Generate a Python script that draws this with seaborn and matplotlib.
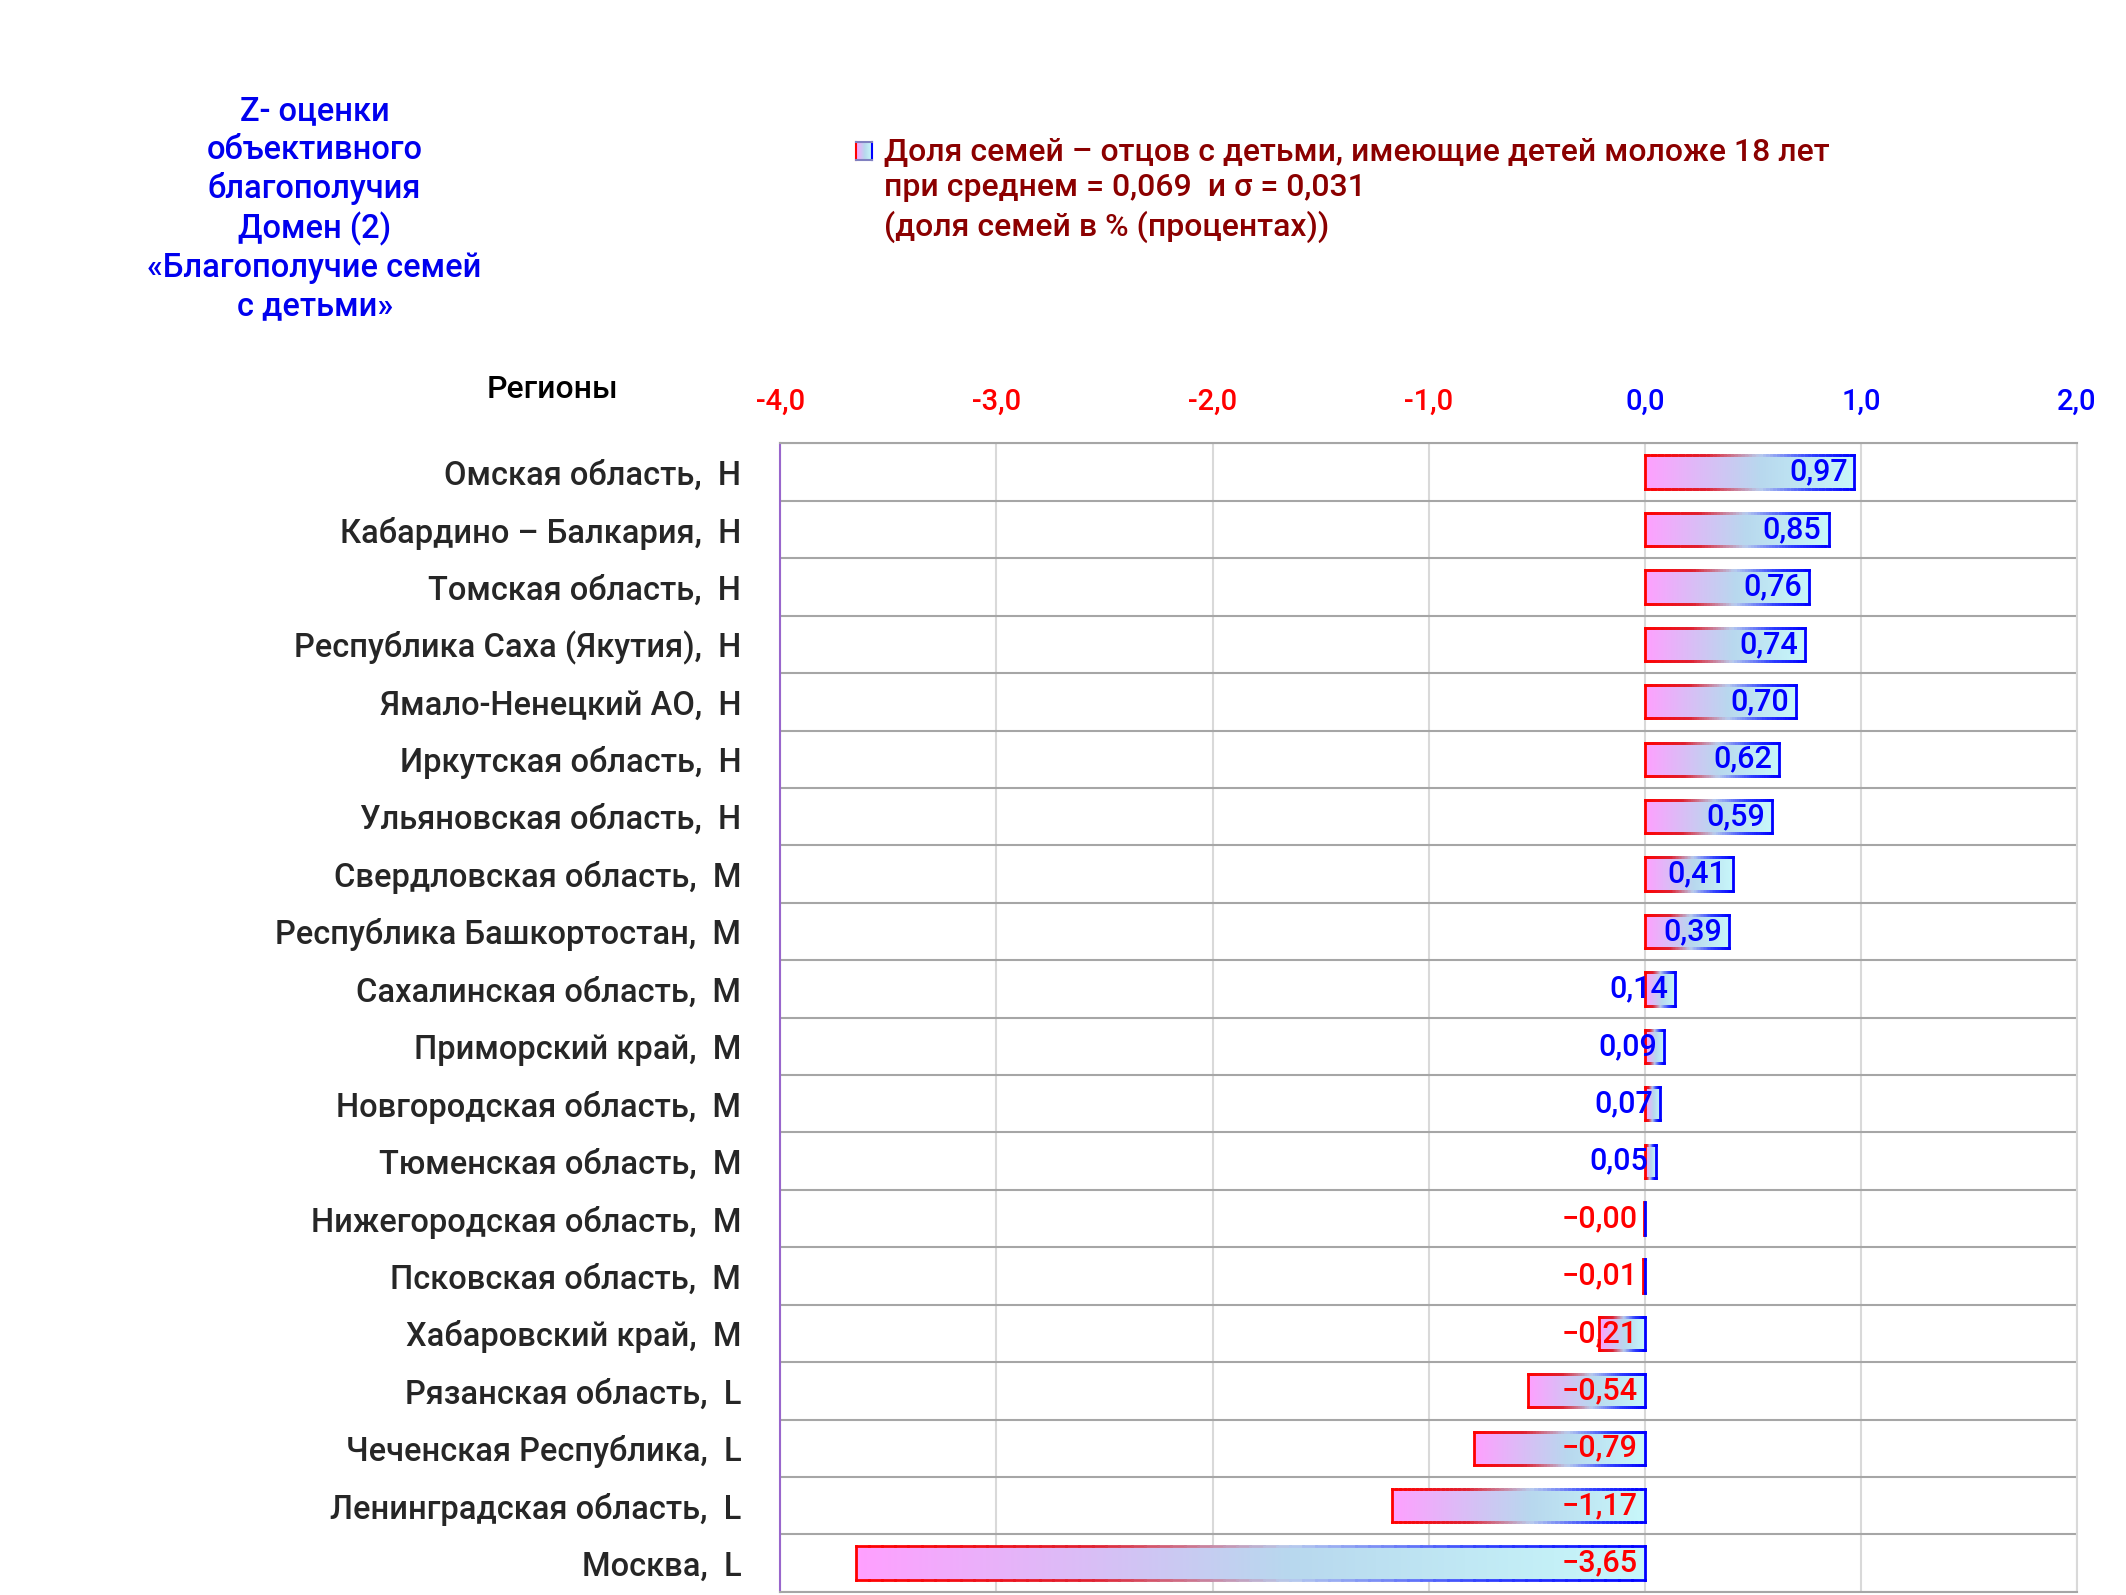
import numpy as np
import pandas as pd
import seaborn as sns
import matplotlib.pyplot as plt
from matplotlib.collections import LineCollection
from matplotlib.colors import LinearSegmentedColormap

regions = [
    "Омская область,  Н", "Кабардино – Балкария,  Н", "Томская область,  Н",
    "Республика Саха (Якутия),  Н", "Ямало-Ненецкий АО,  Н", "Иркутская область,  Н",
    "Ульяновская область,  Н", "Свердловская область,  М", "Республика Башкортостан,  М",
    "Сахалинская область,  М", "Приморский край,  М", "Новгородская область,  М",
    "Тюменская область,  М", "Нижегородская область,  М", "Псковская область,  М",
    "Хабаровский край,  М", "Рязанская область,  L", "Чеченская Республика,  L",
    "Ленинградская область,  L", "Москва,  L",
]
z_scores = [0.97, 0.85, 0.76, 0.74, 0.70, 0.62, 0.59, 0.41, 0.39, 0.14,
            0.09, 0.07, 0.05, -0.003, -0.01, -0.21, -0.54, -0.79, -1.17, -3.65]
x_ticks = [-4, -3, -2, -1, 0, 1, 2]
x_ticklabels = ["-4,0", "-3,0", "-2,0", "-1,0", "0,0", "1,0", "2,0"]

title_text = ("Z- оценки\nобъективного\nблагополучия\nДомен (2)\n"
              "«Благополучие семей\nс детьми»")
legend_text = ("Доля семей – отцов с детьми, имеющие детей моложе 18 лет\n"
               "при среднем = 0,069  и σ = 0,031\n"
               "(доля семей в % (процентах))")

df = pd.DataFrame({"region": regions, "z": z_scores})

sns.set_style("white")
plt.rcParams["font.family"] = ["Roboto", "DejaVu Sans"]

fill_cmap = LinearSegmentedColormap.from_list(
    "fill", [(0, "#FFA0FF"), (0.55, "#B8D8EE"), (1, "#C8F8FA")])
edge_cmap = LinearSegmentedColormap.from_list(
    "edge", [(0, "#FF0000"), (0.3, "#E02030"), (0.55, "#B8CCEE"), (0.8, "#3040FF"), (1, "#0000FF")])

fig = plt.figure(figsize=(21.26, 15.95), dpi=100)
ax = fig.add_axes([0.367, 0.002, 0.610, 0.720])

sns.barplot(data=df, x="z", y="region", orient="h", ax=ax, width=0.58)

grad = np.linspace(0, 1, 256).reshape(1, -1)
for p in ax.patches:
    x0, y0 = p.get_x(), p.get_y()
    w, h = p.get_width(), p.get_height()
    xl, xr = min(x0, x0 + w), max(x0, x0 + w)
    yt, yb = min(y0, y0 + h), max(y0, y0 + h)
    p.set_facecolor("none")
    p.set_edgecolor("none")
    im = ax.imshow(grad, cmap=fill_cmap, aspect="auto", extent=(xl, xr, yb, yt),
                   zorder=2, interpolation="bilinear")
    im.set_clip_path(p)
    # gradient border
    n = 60
    xs = np.linspace(xl, xr, n + 1)
    segs, cols = [], []
    for yy in (yt, yb):
        for i in range(n):
            segs.append([(xs[i], yy), (xs[i + 1], yy)])
            cols.append(edge_cmap((i + 0.5) / n))
    segs.append([(xl, yt), (xl, yb)])
    cols.append(edge_cmap(0.0))
    segs.append([(xr, yt), (xr, yb)])
    cols.append(edge_cmap(1.0))
    ax.add_collection(LineCollection(segs, colors=cols, linewidths=2.0, zorder=3,
                                     capstyle="projecting"))

for i, v in enumerate(z_scores):
    lbl = f"{v:.2f}".replace(".", ",").replace("-", "−")
    ax.annotate(lbl, (max(v, 0), i), xytext=(-5, 0), textcoords="offset points",
                ha="right", va="center", fontsize=22, fontweight="medium",
                color="#0000FF" if v >= 0 else "#FF0000", zorder=4)

ax.set_xlim(-4, 2)
ax.set_ylim(19.5, -0.5)
ax.set_xticks(x_ticks)
ax.set_xticklabels(x_ticklabels, fontsize=21, fontweight="medium")
ax.xaxis.tick_top()
for tk, v in zip(ax.xaxis.get_major_ticks(), x_ticks):
    c = "#FF0000" if v < 0 else "#0000FF"
    tk.label1.set_color(c)
    tk.label2.set_color(c)
ax.tick_params(axis="x", length=0, pad=20)
ax.tick_params(axis="y", length=0, pad=28, labelsize=23.5)
for t in ax.get_yticklabels():
    t.set_fontweight("medium")
ax.set_xlabel("")
ax.set_ylabel("")

ax.set_yticks(np.arange(-0.5, 20, 1), minor=True)
ax.tick_params(axis="y", which="minor", length=0)
ax.grid(axis="x", which="major", color="#D9D9D9", lw=1.5, zorder=0)
ax.grid(axis="y", which="minor", color="#A6A6A6", lw=1.5, zorder=0)
ax.grid(axis="y", which="major", visible=False)
ax.set_axisbelow(True)
for side in ("top", "bottom"):
    ax.spines[side].set_color("#A6A6A6")
    ax.spines[side].set_linewidth(1.5)
ax.spines["right"].set_color("#D9D9D9")
ax.spines["right"].set_linewidth(1.5)
ax.spines["left"].set_color("#9966CC")
ax.spines["left"].set_linewidth(1.5)

fig.text(0.148, 0.869, title_text, ha="center", va="center", color="#0000EE",
         fontsize=23.5, fontweight="medium", linespacing=1.25)
fig.text(0.26, 0.756, "Регионы", ha="center", va="center", color="black",
         fontsize=23, fontweight="medium")
fig.text(0.416, 0.881, legend_text, ha="left", va="center", color="#8B0000",
         fontsize=23, fontweight="medium", linespacing=1.32)

lax = fig.add_axes([0.4025, 0.8995, 0.0075, 0.0115])
lax.imshow(grad, cmap=fill_cmap, aspect="auto", extent=(0, 1, 0, 1))
lax.set_xticks([])
lax.set_yticks([])
lax.spines["left"].set_color("#FF0000")
lax.spines["right"].set_color("#0000FF")
lax.spines["top"].set_color("#8080C0")
lax.spines["bottom"].set_color("#8080C0")
for s in lax.spines.values():
    s.set_linewidth(1.5)

fig.savefig("out.png", dpi=100)
